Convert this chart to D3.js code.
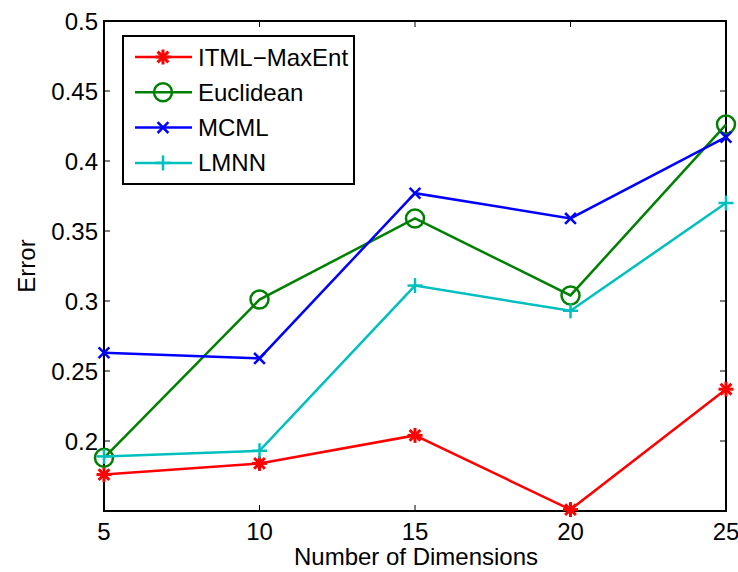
<!DOCTYPE html>
<html>
<head>
<meta charset="utf-8">
<script src="https://cdn.jsdelivr.net/npm/d3@7"></script>
<style>
  body { margin: 0; background: #fff; }
  svg { font-family: "Liberation Sans", Arial, sans-serif; }
</style>
</head>
<body>
<svg id="chart" width="738" height="572"></svg>
<script>
var dims = [5, 10, 15, 20, 25]
var itml = [0.176, 0.184, 0.204, 0.151, 0.237]
var euclid = [0.188, 0.301, 0.359, 0.304, 0.426]
var mcml = [0.263, 0.259, 0.377, 0.359, 0.417]
var lmnn = [0.189, 0.193, 0.311, 0.293, 0.370]
var xTicks = [5, 10, 15, 20, 25]
var yTicks = [0.2, 0.25, 0.3, 0.35, 0.4, 0.45, 0.5]

var series = [
  {name: "ITML\u2212MaxEnt", values: itml, color: "#ff0000", marker: "star"},
  {name: "Euclidean", values: euclid, color: "#008000", marker: "circle"},
  {name: "MCML", values: mcml, color: "#0000ff", marker: "x"},
  {name: "LMNN", values: lmnn, color: "#00bfbf", marker: "plus"}
]

var svg = d3.select("#chart")
var plotL = 104, plotR = 726, plotT = 21, plotB = 511
var fs = 24

var x = d3.scaleLinear().domain([5, 25]).range([plotL, plotR])
var y = d3.scaleLinear().domain([0.15, 0.5]).range([plotB, plotT])

// box
svg.append("rect")
  .attr("x", plotL).attr("y", plotT)
  .attr("width", plotR - plotL).attr("height", plotB - plotT)
  .attr("fill", "none").attr("stroke", "#000").attr("stroke-width", 2)

// ticks, drawn inward on all four sides like matlab
var tl = 6
xTicks.forEach(function(t){
  svg.append("line").attr("x1", x(t)).attr("x2", x(t)).attr("y1", plotB).attr("y2", plotB - tl).attr("stroke", "#000")
  svg.append("line").attr("x1", x(t)).attr("x2", x(t)).attr("y1", plotT).attr("y2", plotT + tl).attr("stroke", "#000")
  svg.append("text").attr("x", x(t)).attr("y", 540)
    .attr("text-anchor", "middle").attr("font-size", fs).text(t)
})
yTicks.forEach(function(t){
  svg.append("line").attr("x1", plotL).attr("x2", plotL + tl).attr("y1", y(t)).attr("y2", y(t)).attr("stroke", "#000")
  svg.append("line").attr("x1", plotR).attr("x2", plotR - tl).attr("y1", y(t)).attr("y2", y(t)).attr("stroke", "#000")
  svg.append("text").attr("x", plotL - 6).attr("y", y(t) + 9)
    .attr("text-anchor", "end").attr("font-size", fs).text(d3.format("~g")(t))
})

svg.append("text").attr("x", 416).attr("y", 565)
  .attr("text-anchor", "middle").attr("font-size", fs).text("Number of Dimensions")
svg.append("text").attr("transform", "translate(35,266) rotate(-90)")
  .attr("text-anchor", "middle").attr("font-size", fs).text("Error")

function drawMarker(g, type, cx, cy, color){
  var s = 7.5
  if(type == "circle"){
    g.append("circle").attr("cx", cx).attr("cy", cy).attr("r", 9)
      .attr("fill", "none").attr("stroke", color).attr("stroke-width", 2.5)
    return
  }
  var segs = []
  if(type == "plus" || type == "star") segs.push([-s, 0, s, 0], [0, -s, 0, s])
  if(type == "x" || type == "star") segs.push([-s*0.72, -s*0.72, s*0.72, s*0.72], [-s*0.72, s*0.72, s*0.72, -s*0.72])
  segs.forEach(function(p){
    g.append("line")
      .attr("x1", cx + p[0]).attr("y1", cy + p[1]).attr("x2", cx + p[2]).attr("y2", cy + p[3])
      .attr("stroke", color).attr("stroke-width", type == "star" ? 3 : 2.5)
  })
}

var line = d3.line().x((d,i) => x(dims[i])).y(d => y(d))

series.forEach(function(s){
  svg.append("path").datum(s.values).attr("d", line)
    .attr("fill", "none").attr("stroke", s.color).attr("stroke-width", 2.5)
  var g = svg.append("g")
  s.values.forEach(function(v, i){ drawMarker(g, s.marker, x(dims[i]), y(v), s.color) })
})

// legend
var lg = svg.append("g")
lg.append("rect").attr("x", 123).attr("y", 36).attr("width", 231).attr("height", 148)
  .attr("fill", "#fff").attr("stroke", "#000").attr("stroke-width", 2)
series.forEach(function(s, i){
  var ly = 57 + i * 35.3
  lg.append("line").attr("x1", 135).attr("x2", 192).attr("y1", ly).attr("y2", ly)
    .attr("stroke", s.color).attr("stroke-width", 2.5)
  drawMarker(lg, s.marker, 163, ly, s.color)
  lg.append("text").attr("x", 198).attr("y", ly + 8.5).attr("font-size", fs).text(s.name)
})
</script>
</body>
</html>
